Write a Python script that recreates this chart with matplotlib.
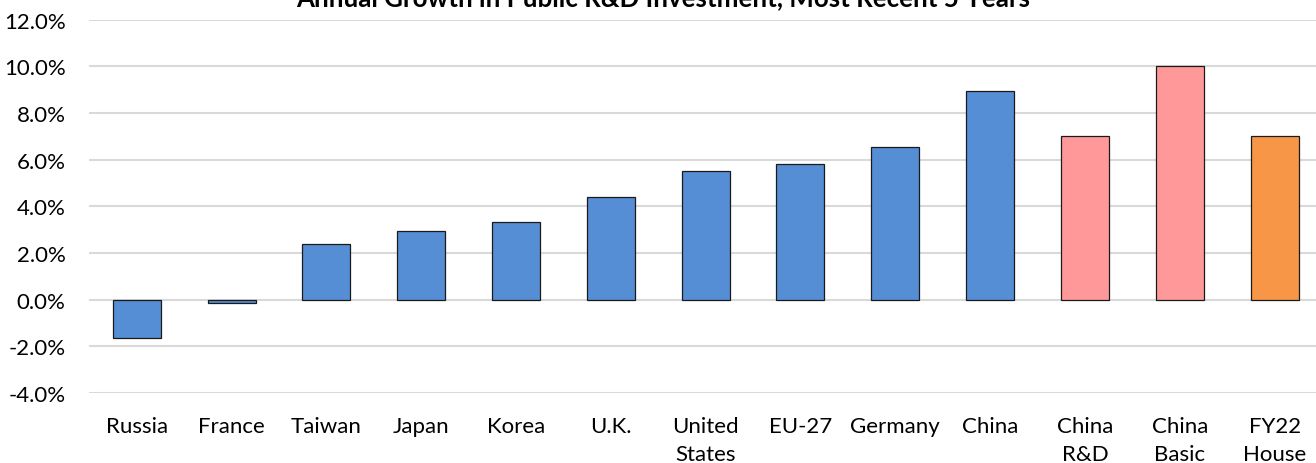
import matplotlib
matplotlib.use("Agg")
import matplotlib.pyplot as plt
from matplotlib.ticker import FuncFormatter, MultipleLocator

categories = ["Russia", "France", "Taiwan", "Japan", "Korea", "U.K.", "United\nStates",
              "EU-27", "Germany", "China", "China\nR&D", "China\nBasic", "FY22\nHouse"]
growth_pct = [-1.64, -0.15, 2.39, 2.93, 3.33, 4.38, 5.52, 5.82, 6.55, 8.95, 7.0, 10.0, 7.0]
bar_colors = ["#558ED5"] * 10 + ["#FF9999", "#FF9999", "#F79646"]
title = "Annual Growth in Public R&D Investment, Most Recent 5 Years"

plt.rcParams['font.family'] = ['Lato', 'DejaVu Sans']

W, H = 1316, 464
fig = plt.figure(figsize=(W / 100, H / 100), dpi=100)
ax = fig.add_axes([89.3 / W, 1 - 394 / H, (1322 - 89.3) / W, (394 - 20.7) / H])

x = list(range(len(categories)))
ax.bar(x, growth_pct, width=0.506, color=bar_colors, edgecolor="#1a1a1a",
       linewidth=0.9, zorder=3)

ax.set_xlim(-0.5, len(categories) - 0.5)
ax.set_ylim(-4, 12)
ax.yaxis.set_major_locator(MultipleLocator(2))
ax.yaxis.set_major_formatter(FuncFormatter(lambda v, p: f"{v:.1f}%"))
ax.grid(axis="y", color="#D9D9D9", linewidth=1.5, zorder=0)
ax.set_axisbelow(True)
for s in ax.spines.values():
    s.set_visible(False)
ax.set_xticks(x)
ax.set_xticklabels(categories, linespacing=1.5)
ax.tick_params(axis="both", length=0, labelsize=16, colors="#000000")
ax.tick_params(axis="y", pad=17)
ax.tick_params(axis="x", pad=16.5)

fig.text(0.504, 1 - 6.5 / H, title, ha="center", va="baseline",
         fontsize=18.6, fontweight="bold", color="#000000")

fig.savefig("out.png", dpi=100)
